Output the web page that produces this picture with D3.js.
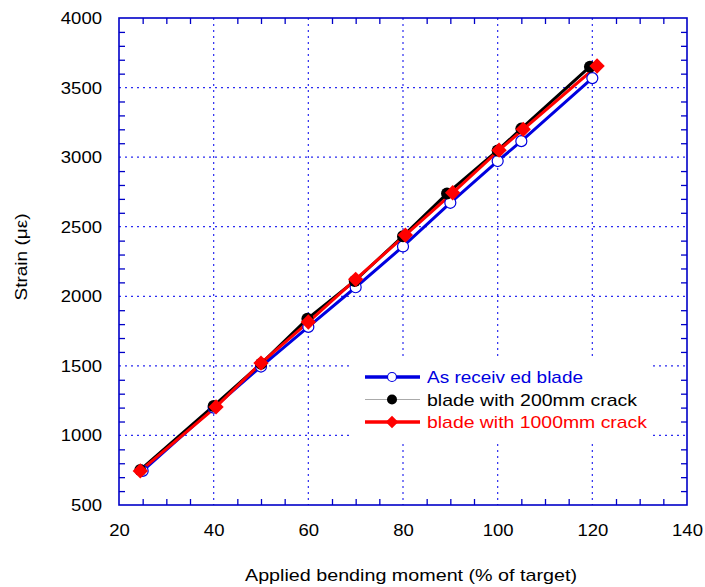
<!DOCTYPE html>
<html>
<head>
<meta charset="utf-8">
<script src="https://cdn.jsdelivr.net/npm/d3@7"></script>
<style>
body { margin: 0; background: #fff; }
text { font-family: "Liberation Sans", Arial, sans-serif; }
</style>
</head>
<body>
<div id="chart"></div>
<script>
// values
const xReceived = [25, 40, 50, 60, 70, 80, 90, 100, 105, 120];
const yReceived = [745, 1200, 1495, 1780, 2065, 2358, 2672, 2972, 3115, 3568];
const x200 = [24.5, 40, 50, 59.8, 69.8, 80, 89.3, 100, 105, 119.5];
const y200 = [752, 1212, 1515, 1838, 2110, 2432, 2738, 3048, 3205, 3650];
const x1000 = [24.5, 40.5, 50, 60, 70, 80.5, 90.5, 100.3, 105.4, 121];
const y1000 = [745, 1205, 1520, 1815, 2122, 2440, 2744, 3050, 3200, 3655];
const seriesNames = ["As receiv ed blade", "blade with 200mm crack", "blade with 1000mm crack"];
const xTicks = [20, 40, 60, 80, 100, 120, 140];
const yTicks = [500, 1000, 1500, 2000, 2500, 3000, 3500, 4000];

const width = 705, height = 587;
const margin = {top: 18, right: 18, bottom: 82, left: 119};
const pw = width - margin.left - margin.right;
const ph = height - margin.top - margin.bottom;
const axisBlue = "#0000c8";

const svg = d3.select("#chart").append("svg")
	.attr("width", width)
	.attr("height", height);
const g = svg.append("g")
	.attr("transform", "translate(" + margin.left + "," + margin.top + ")");

const x = d3.scaleLinear().domain([20, 140]).range([0, pw]);
const y = d3.scaleLinear().domain([500, 4000]).range([ph, 0]);

// dotted grid
g.append("g").selectAll("line.gx")
	.data(xTicks.slice(1, -1))
	.enter().append("line")
		.attr("x1", d => x(d)).attr("x2", d => x(d))
		.attr("y1", 0).attr("y2", ph)
		.attr("stroke", "#2b2bf0").attr("stroke-width", 1.2)
		.attr("stroke-dasharray", "2,4");
g.append("g").selectAll("line.gy")
	.data(yTicks.slice(1, -1))
	.enter().append("line")
		.attr("x1", 0).attr("x2", pw)
		.attr("y1", d => y(d)).attr("y2", d => y(d))
		.attr("stroke", "#2b2bf0").attr("stroke-width", 1.2)
		.attr("stroke-dasharray", "2,4");

// minor ticks, all four sides, pointing inward
const xMinor = d3.range(25, 140, 5).filter(d => d % 20 !== 0);
const yMinor = d3.range(600, 4000, 100).filter(d => d % 500 !== 0);
function styleAxis(sel){
	sel.select(".domain").remove();
	sel.selectAll("line").attr("stroke", axisBlue).attr("stroke-width", 1.3);
	sel.selectAll("text").remove();
}
g.append("g").attr("transform", "translate(0," + ph + ")")
	.call(d3.axisBottom(x).tickValues(xMinor).tickSize(-6)).call(styleAxis);
g.append("g")
	.call(d3.axisTop(x).tickValues(xMinor).tickSize(-6)).call(styleAxis);
g.append("g")
	.call(d3.axisLeft(y).tickValues(yMinor).tickSize(-6)).call(styleAxis);
g.append("g").attr("transform", "translate(" + pw + ",0)")
	.call(d3.axisRight(y).tickValues(yMinor).tickSize(-6)).call(styleAxis);

// frame
g.append("rect")
	.attr("width", pw).attr("height", ph)
	.attr("fill", "none").attr("stroke", axisBlue).attr("stroke-width", 1.6);

// tick labels (the original font is a little wider than Arial)
function styleLabels(sel){
	sel.select(".domain").remove();
	sel.selectAll("text")
		.attr("font-size", 17).attr("fill", "#000")
		.attr("font-family", "Liberation Sans, Arial, sans-serif")
		.attr("textLength", d => String(d).length * 10.3)
		.attr("lengthAdjust", "spacingAndGlyphs");
}
g.append("g").attr("transform", "translate(0," + ph + ")")
	.call(d3.axisBottom(x).tickValues(xTicks).tickFormat(d3.format("d")).tickSize(0).tickPadding(19))
	.call(styleLabels);
g.append("g")
	.call(d3.axisLeft(y).tickValues(yTicks).tickFormat(d3.format("d")).tickSize(0).tickPadding(17))
	.call(styleLabels);

// axis titles
svg.append("text")
	.attr("x", 411).attr("y", 581)
	.attr("text-anchor", "middle").attr("font-size", 17)
	.attr("textLength", 332).attr("lengthAdjust", "spacingAndGlyphs")
	.text("Applied bending moment (% of target)");
svg.append("text")
	.attr("transform", "translate(27,257) rotate(-90)")
	.attr("text-anchor", "middle").attr("font-size", 17)
	.attr("textLength", 87).attr("lengthAdjust", "spacingAndGlyphs")
	.text("Strain (\u03bc\u03b5)");

// series
const series = [
	{xs: xReceived, ys: yReceived, color: "#0000e0", lw: 3, marker: "circle"},
	{xs: x200, ys: y200, color: "#000", lw: 3, marker: "dot"},
	{xs: x1000, ys: y1000, color: "#ff0000", lw: 3, marker: "diamond"}
];
const line = d3.line().x(d => x(d[0])).y(d => y(d[1]));

function drawMarker(sel, s, big){
	if (s.marker === "circle"){
		sel.append("circle").attr("r", big ? 5.5 : 4.5)
			.attr("fill", "#fff").attr("stroke", s.color).attr("stroke-width", 1.2);
	} else if (s.marker === "dot"){
		sel.append("circle").attr("r", big ? 6 : 5).attr("fill", "#000");
	} else {
		sel.append("path").attr("d", d3.symbol().type(d3.symbolDiamond2).size(big ? 150 : 100)())
			.attr("fill", s.color);
	}
}

series.forEach(function(s){
	const pts = s.xs.map((v, i) => [v, s.ys[i]]);
	g.append("path").datum(pts)
		.attr("d", line)
		.attr("fill", "none").attr("stroke", s.color).attr("stroke-width", s.lw);
});
series.forEach(function(s){
	const pts = s.xs.map((v, i) => [v, s.ys[i]]);
	g.append("g").selectAll("g")
		.data(pts)
		.enter().append("g")
			.attr("transform", d => "translate(" + x(d[0]) + "," + y(d[1]) + ")")
			.each(function(){ drawMarker(d3.select(this), s, true); });
});

// legend
const legend = svg.append("g");
legend.append("rect")
	.attr("x", 353).attr("y", 357).attr("width", 297).attr("height", 87)
	.attr("fill", "#fff");
const legendStyle = [
	{color: "#0000e0", lw: 3.5, text: "#0000e0", w: 156},
	{color: "#aaa", lw: 1, text: "#000", w: 210},
	{color: "#ff0000", lw: 3.5, text: "#ff0000", w: 220}
];
seriesNames.forEach(function(name, i){
	const ly = 377 + i * 22.5;
	const row = legend.append("g").attr("transform", "translate(0," + ly + ")");
	row.append("line").attr("x1", 365).attr("x2", 420)
		.attr("stroke", legendStyle[i].color).attr("stroke-width", legendStyle[i].lw);
	const m = row.append("g").attr("transform", "translate(392,0)");
	drawMarker(m, series[i], false);
	row.append("text").attr("x", 427).attr("y", 6)
		.attr("font-size", 17)
		.attr("textLength", legendStyle[i].w).attr("lengthAdjust", "spacingAndGlyphs")
		.attr("fill", legendStyle[i].text)
		.text(name);
});
</script>
</body>
</html>
